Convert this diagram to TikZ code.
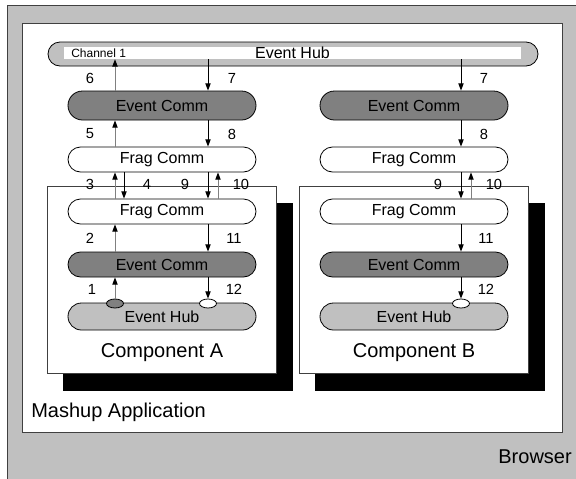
\documentclass[tikz,border=0pt]{standalone}
\usepackage{fontspec}
\setmainfont{Liberation Sans}
\usetikzlibrary{shapes.misc,shapes.geometric,arrows.meta}

\definecolor{hubgray}{HTML}{C0C0C0}
\definecolor{commgray}{HTML}{808080}

\tikzset{
  pill/.style={rounded rectangle, draw=black, line width=0.6pt, inner sep=0pt,
    minimum width=141pt, font=\fontsize{12}{14}\selectfont},
  hubpill/.style={pill, fill=hubgray, minimum height=20.25pt},
  commpill/.style={pill, fill=commgray, minimum height=18.75pt},
  fragpill/.style={pill, fill=white, minimum height=18.75pt},
  port/.style={ellipse, draw=black, line width=0.6pt, inner sep=0pt,
    minimum width=12.75pt, minimum height=6.75pt},
  upline/.style={draw=commgray, line width=0.75pt,
    -{Triangle[width=4pt,length=5.5pt,black]}},
  downline/.style={draw=black, line width=0.75pt,
    -{Triangle[width=4pt,length=5.5pt]}},
  num/.style={font=\fontsize{11}{13}\selectfont, inner sep=0pt},
  bigtext/.style={font=\fontsize{15}{18}\selectfont, inner sep=0pt},
  compbox/.style={fill=white, draw=black!75, line width=0.6pt}
}

\begin{document}
\begin{tikzpicture}[x=0.75pt, y=-0.75pt]
  \clip (0,0) rectangle (576,479);
  \useasboundingbox (0,0) rectangle (576,479);

  % browser and mashup frames
  \filldraw[fill=hubgray, draw=black!75, line width=0.6pt] (7,5) rectangle (600,500);
  \filldraw[fill=white, draw=black!75, line width=0.6pt] (22,23) rectangle (562,432);
  \node[bigtext, anchor=west] (mashup) at (31,412) {Mashup Application};
  \node[bigtext, anchor=east] (browser) at (572,457) {Browser};

  % shared event hub
  \node[pill, fill=hubgray, minimum width=367.5pt, minimum height=18pt] (hub) at (293,54) {};
  \node[fill=white, inner sep=0pt, minimum width=342.75pt, minimum height=9pt,
    font=\fontsize{12}{14}\selectfont] (strip) at (292.5,53) {Event Hub};
  \node[anchor=west, inner sep=0pt, font=\fontsize{9}{11}\selectfont] (chan) at (71,53) {Channel 1};

  % component frames with shadows
  \fill[black] (63,203) rectangle (293,391);
  \draw[compbox] (47,186) rectangle (276,373);
  \fill[black] (315,203) rectangle (545,391);
  \draw[compbox] (299,186) rectangle (528,373);

  % component A side
  \node[commpill, minimum height=21.75pt] (ecA) at (162,105.5) {Event Comm};
  \node[fragpill] (fcA) at (162,159.5) {Frag Comm};
  \node[fragpill] (fiA) at (162,211.5) {Frag Comm};
  \node[commpill] (eiA) at (162,264.5) {Event Comm};
  \node[hubpill] (ehA) at (162,316.5) {Event Hub};
  \node[bigtext] (compA) at (162,353) {Component A};
  \node[port, fill=commgray] (pubA) at (115,303.5) {};
  \node[port, fill=white] (subA) at (208,303.5) {};

  % component B side
  \node[commpill, minimum height=21.75pt] (ecB) at (414,105.5) {Event Comm};
  \node[fragpill] (fcB) at (414,159.5) {Frag Comm};
  \node[fragpill] (fiB) at (414,211.5) {Frag Comm};
  \node[commpill] (eiB) at (414,264.5) {Event Comm};
  \node[hubpill] (ehB) at (414,316.5) {Event Hub};
  \node[bigtext] (compB) at (414,353) {Component B};
  \node[port, fill=white] (subB) at (461,303.5) {};

  % arrow columns
  \coordinate (upA) at (115,0);
  \coordinate (inA) at (124,0);
  \coordinate (dnA) at (208,0);
  \coordinate (retA) at (218,0);
  \coordinate (dnB) at (461,0);
  \coordinate (retB) at (471,0);

  % publishing path in A
  \draw[upline] (pubA.north) -- (eiA.south -| upA);
  \draw[upline] (eiA.north -| upA) -- (fiA.south -| upA);
  \draw[upline] (fiA.north -| upA) -- (fcA.south -| upA);
  \draw[downline] (fcA.south -| inA) -- (fiA.north -| inA);
  \draw[upline] (fcA.north -| upA) -- (ecA.south -| upA);
  \draw[upline] (ecA.north -| upA) -- (strip.south -| upA);

  % delivery path in A
  \draw[downline] (strip.south -| dnA) -- (ecA.north -| dnA);
  \draw[downline] (ecA.south -| dnA) -- (fcA.north -| dnA);
  \draw[downline] (fcA.south -| dnA) -- (fiA.north -| dnA);
  \draw[upline] (fiA.north -| retA) -- (fcA.south -| retA);
  \draw[downline] (fiA.south -| dnA) -- (eiA.north -| dnA);
  \draw[downline] (eiA.south -| dnA) -- (subA.north);

  % delivery path in B
  \draw[downline] (strip.south -| dnB) -- (ecB.north -| dnB);
  \draw[downline] (ecB.south -| dnB) -- (fcB.north -| dnB);
  \draw[downline] (fcB.south -| dnB) -- (fiB.north -| dnB);
  \draw[upline] (fiB.north -| retB) -- (fcB.south -| retB);
  \draw[downline] (fiB.south -| dnB) -- (eiB.north -| dnB);
  \draw[downline] (eiB.south -| dnB) -- (subB.north);

  % step numbers
  \node[num] (s6) at (90,78) {6};
  \node[num] (s7a) at (232,78) {7};
  \node[num] (s5) at (90,134) {5};
  \node[num] (s8a) at (232,134) {8};
  \node[num] (s3) at (90,184) {3};
  \node[num] (s4) at (147,184) {4};
  \node[num] (s9a) at (185,184) {9};
  \node[num] (s10a) at (241,184) {10};
  \node[num] (s2) at (90,238) {2};
  \node[num] (s11a) at (234,238) {11};
  \node[num] (s1) at (92,289) {1};
  \node[num] (s12a) at (234,289) {12};
  \node[num] (s7b) at (484,78) {7};
  \node[num] (s8b) at (484,134) {8};
  \node[num] (s9b) at (438,184) {9};
  \node[num] (s10b) at (494,184) {10};
  \node[num] (s11b) at (486,238) {11};
  \node[num] (s12b) at (486,289) {12};
\end{tikzpicture}
\end{document}
